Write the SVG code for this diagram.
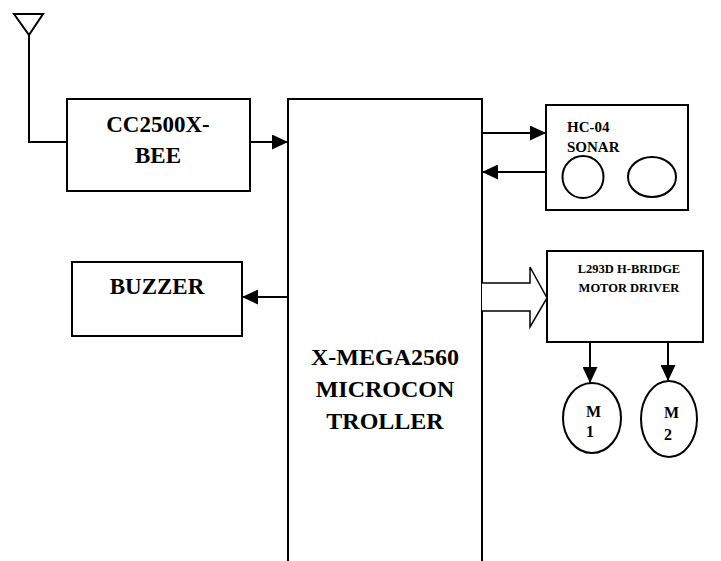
<svg xmlns="http://www.w3.org/2000/svg" width="721" height="561" viewBox="0 0 721 561">
<defs>
<style>
.box{fill:#fff;stroke:#000;stroke-width:2}
.ln{fill:none;stroke:#000;stroke-width:2}
.t{font-family:"Liberation Serif","Times New Roman",serif;font-weight:bold;fill:#000}
</style>
<marker id="ah" viewBox="0 0 10 10" refX="10" refY="5" markerWidth="16" markerHeight="15" markerUnits="userSpaceOnUse" orient="auto" preserveAspectRatio="none">
<path d="M0,0 L10,5 L0,10 Z" fill="#000"/>
</marker>
</defs>
<rect width="721" height="561" fill="#fff"/>
<g id="antenna">
<path class="ln" d="M14,14 L43,14 L29,35 Z"/>
<path class="ln" d="M29,35 L29,142 L67,142"/>
</g>
<g id="cc2500">
<rect class="box" x="67" y="99" width="183" height="92"/>
<text class="t" x="158" y="132" font-size="23" text-anchor="middle">CC2500X-</text>
<text class="t" x="158" y="163" font-size="23" text-anchor="middle">BEE</text>
</g>
<g id="micro">
<rect class="box" x="288" y="99" width="194" height="520"/>
<text class="t" x="385" y="365" font-size="24" text-anchor="middle">X-MEGA2560</text>
<text class="t" x="385" y="397" font-size="24" text-anchor="middle">MICROCON</text>
<text class="t" x="385" y="429" font-size="24" text-anchor="middle">TROLLER</text>
</g>
<g id="sonar">
<rect class="box" x="546" y="105" width="142" height="105"/>
<text class="t" x="567" y="132" font-size="15">HC-04</text>
<text class="t" x="567" y="152" font-size="15">SONAR</text>
<ellipse class="ln" cx="583" cy="177" rx="20.5" ry="21"/>
<ellipse class="ln" cx="652" cy="177" rx="24" ry="20"/>
</g>
<g id="buzzer">
<rect class="box" x="72" y="262" width="170" height="74"/>
<text class="t" x="157" y="294" font-size="23" text-anchor="middle">BUZZER</text>
</g>
<g id="driver">
<rect class="box" x="547" y="251" width="156" height="91"/>
<text class="t" x="629" y="273" font-size="12.5" text-anchor="middle">L293D H-BRIDGE</text>
<text class="t" x="629" y="292" font-size="12.5" text-anchor="middle">MOTOR DRIVER</text>
</g>
<g id="m1">
<ellipse class="ln" cx="592" cy="418" rx="29" ry="35"/>
<text class="t" x="586" y="417" font-size="16">M</text>
<text class="t" x="586" y="437" font-size="16">1</text>
</g>
<g id="m2">
<ellipse class="ln" cx="669" cy="419" rx="28" ry="38"/>
<text class="t" x="664" y="418" font-size="16">M</text>
<text class="t" x="664" y="440" font-size="16">2</text>
</g>
<g id="connectors">
<line class="ln" x1="250" y1="142" x2="288" y2="142" marker-end="url(#ah)"/>
<line class="ln" x1="482" y1="133" x2="546" y2="133" marker-end="url(#ah)"/>
<line class="ln" x1="546" y1="172" x2="482" y2="172" marker-end="url(#ah)"/>
<line class="ln" x1="288" y1="297" x2="242" y2="297" marker-end="url(#ah)"/>
<path d="M482,283 L530,283 L530,267 L547,298 L530,327 L530,311 L482,311" fill="#fff" stroke="#000" stroke-width="1.5"/>
<line class="ln" x1="590" y1="342" x2="590" y2="383" marker-end="url(#ah)"/>
<line class="ln" x1="668" y1="342" x2="668" y2="381" marker-end="url(#ah)"/>
</g>
</svg>
